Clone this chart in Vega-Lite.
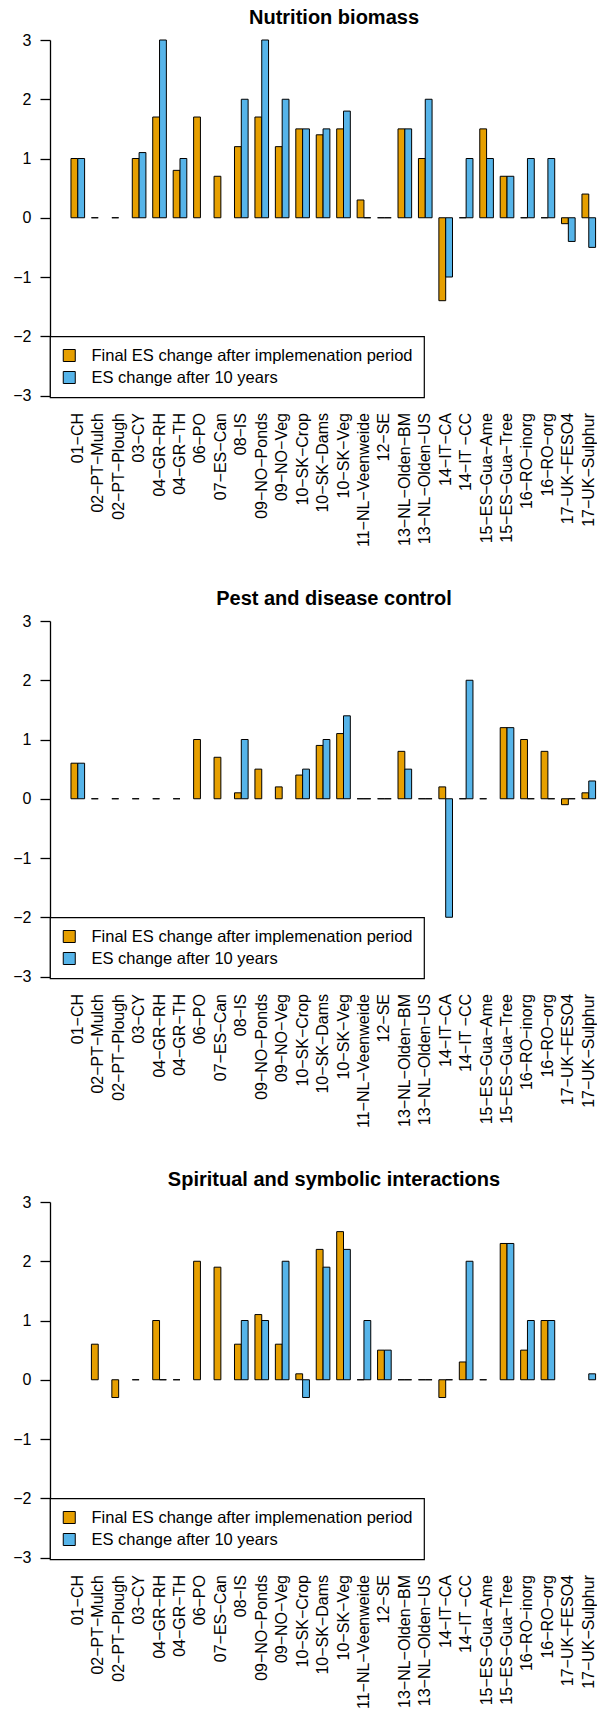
{
  "$schema": "https://vega.github.io/schema/vega-lite/v6.json",
  "background": "white",
  "padding": {"left": 12, "top": 8, "right": 0, "bottom": 0},
  "bounds": "flush",
  "spacing": 225,
  "config": {
    "font": "Liberation Sans",
    "view": {"stroke": null},
    "axis": {"labelColor": "black", "grid": false, "labelFontSize": 16, "domainColor": "black", "tickColor": "black", "domainWidth": 1.3, "tickWidth": 1.3},
    "legend": {"orient": "none", "legendX": 0, "legendY": 296.25, "strokeColor": "black", "strokeWidth": 1.2, "fillColor": "white", "padding": 11, "rowPadding": 5, "labelFontSize": 16.5, "labelColor": "black", "labelLimit": 400, "labelOffset": 14, "symbolType": "square", "symbolSize": 144, "symbolStrokeColor": "black", "symbolStrokeWidth": 1, "symbolOpacity": 1},
    "title": {"fontSize": 20, "fontWeight": "bold", "color": "black", "anchor": "middle", "frame": "group", "baseline": "alphabetic", "offset": 0, "dx": 10}
  },
  "resolve": {"legend": {"color": "independent"}},
  "data": {"values": [
    {"p": "N", "site": "01-CH", "s": "Final ES change after implemenation period", "v": 1},
    {"p": "N", "site": "01-CH", "s": "ES change after 10 years", "v": 1},
    {"p": "N", "site": "02-PT-Mulch", "s": "Final ES change after implemenation period", "v": 0},
    {"p": "N", "site": "02-PT-Plough", "s": "Final ES change after implemenation period", "v": 0},
    {"p": "N", "site": "03-CY", "s": "Final ES change after implemenation period", "v": 1},
    {"p": "N", "site": "03-CY", "s": "ES change after 10 years", "v": 1.1},
    {"p": "N", "site": "04-GR-RH", "s": "Final ES change after implemenation period", "v": 1.7},
    {"p": "N", "site": "04-GR-RH", "s": "ES change after 10 years", "v": 3},
    {"p": "N", "site": "04-GR-TH", "s": "Final ES change after implemenation period", "v": 0.8},
    {"p": "N", "site": "04-GR-TH", "s": "ES change after 10 years", "v": 1},
    {"p": "N", "site": "06-PO", "s": "Final ES change after implemenation period", "v": 1.7},
    {"p": "N", "site": "07-ES-Can", "s": "Final ES change after implemenation period", "v": 0.7},
    {"p": "N", "site": "08-IS", "s": "Final ES change after implemenation period", "v": 1.2},
    {"p": "N", "site": "08-IS", "s": "ES change after 10 years", "v": 2},
    {"p": "N", "site": "09-NO-Ponds", "s": "Final ES change after implemenation period", "v": 1.7},
    {"p": "N", "site": "09-NO-Ponds", "s": "ES change after 10 years", "v": 3},
    {"p": "N", "site": "09-NO-Veg", "s": "Final ES change after implemenation period", "v": 1.2},
    {"p": "N", "site": "09-NO-Veg", "s": "ES change after 10 years", "v": 2},
    {"p": "N", "site": "10-SK-Crop", "s": "Final ES change after implemenation period", "v": 1.5},
    {"p": "N", "site": "10-SK-Crop", "s": "ES change after 10 years", "v": 1.5},
    {"p": "N", "site": "10-SK-Dams", "s": "Final ES change after implemenation period", "v": 1.4},
    {"p": "N", "site": "10-SK-Dams", "s": "ES change after 10 years", "v": 1.5},
    {"p": "N", "site": "10-SK-Veg", "s": "Final ES change after implemenation period", "v": 1.5},
    {"p": "N", "site": "10-SK-Veg", "s": "ES change after 10 years", "v": 1.8},
    {"p": "N", "site": "11-NL-Veenweide", "s": "Final ES change after implemenation period", "v": 0.3},
    {"p": "N", "site": "11-NL-Veenweide", "s": "ES change after 10 years", "v": 0},
    {"p": "N", "site": "12-SE", "s": "Final ES change after implemenation period", "v": 0},
    {"p": "N", "site": "12-SE", "s": "ES change after 10 years", "v": 0},
    {"p": "N", "site": "13-NL-Olden-BM", "s": "Final ES change after implemenation period", "v": 1.5},
    {"p": "N", "site": "13-NL-Olden-BM", "s": "ES change after 10 years", "v": 1.5},
    {"p": "N", "site": "13-NL-Olden-US", "s": "Final ES change after implemenation period", "v": 1},
    {"p": "N", "site": "13-NL-Olden-US", "s": "ES change after 10 years", "v": 2},
    {"p": "N", "site": "14-IT-CA", "s": "Final ES change after implemenation period", "v": -1.4},
    {"p": "N", "site": "14-IT-CA", "s": "ES change after 10 years", "v": -1},
    {"p": "N", "site": "14-IT -CC", "s": "Final ES change after implemenation period", "v": 0},
    {"p": "N", "site": "14-IT -CC", "s": "ES change after 10 years", "v": 1},
    {"p": "N", "site": "15-ES-Gua-Ame", "s": "Final ES change after implemenation period", "v": 1.5},
    {"p": "N", "site": "15-ES-Gua-Ame", "s": "ES change after 10 years", "v": 1},
    {"p": "N", "site": "15-ES-Gua-Tree", "s": "Final ES change after implemenation period", "v": 0.7},
    {"p": "N", "site": "15-ES-Gua-Tree", "s": "ES change after 10 years", "v": 0.7},
    {"p": "N", "site": "16-RO-inorg", "s": "Final ES change after implemenation period", "v": 0},
    {"p": "N", "site": "16-RO-inorg", "s": "ES change after 10 years", "v": 1},
    {"p": "N", "site": "16-RO-org", "s": "Final ES change after implemenation period", "v": 0},
    {"p": "N", "site": "16-RO-org", "s": "ES change after 10 years", "v": 1},
    {"p": "N", "site": "17-UK-FESO4", "s": "Final ES change after implemenation period", "v": -0.1},
    {"p": "N", "site": "17-UK-FESO4", "s": "ES change after 10 years", "v": -0.4},
    {"p": "N", "site": "17-UK-Sulphur", "s": "Final ES change after implemenation period", "v": 0.4},
    {"p": "N", "site": "17-UK-Sulphur", "s": "ES change after 10 years", "v": -0.5},

    {"p": "P", "site": "01-CH", "s": "Final ES change after implemenation period", "v": 0.6},
    {"p": "P", "site": "01-CH", "s": "ES change after 10 years", "v": 0.6},
    {"p": "P", "site": "02-PT-Mulch", "s": "Final ES change after implemenation period", "v": 0},
    {"p": "P", "site": "02-PT-Plough", "s": "Final ES change after implemenation period", "v": 0},
    {"p": "P", "site": "03-CY", "s": "Final ES change after implemenation period", "v": 0},
    {"p": "P", "site": "04-GR-RH", "s": "Final ES change after implemenation period", "v": 0},
    {"p": "P", "site": "04-GR-TH", "s": "Final ES change after implemenation period", "v": 0},
    {"p": "P", "site": "06-PO", "s": "Final ES change after implemenation period", "v": 1},
    {"p": "P", "site": "07-ES-Can", "s": "Final ES change after implemenation period", "v": 0.7},
    {"p": "P", "site": "08-IS", "s": "Final ES change after implemenation period", "v": 0.1},
    {"p": "P", "site": "08-IS", "s": "ES change after 10 years", "v": 1},
    {"p": "P", "site": "09-NO-Ponds", "s": "Final ES change after implemenation period", "v": 0.5},
    {"p": "P", "site": "09-NO-Veg", "s": "Final ES change after implemenation period", "v": 0.2},
    {"p": "P", "site": "10-SK-Crop", "s": "Final ES change after implemenation period", "v": 0.4},
    {"p": "P", "site": "10-SK-Crop", "s": "ES change after 10 years", "v": 0.5},
    {"p": "P", "site": "10-SK-Dams", "s": "Final ES change after implemenation period", "v": 0.9},
    {"p": "P", "site": "10-SK-Dams", "s": "ES change after 10 years", "v": 1},
    {"p": "P", "site": "10-SK-Veg", "s": "Final ES change after implemenation period", "v": 1.1},
    {"p": "P", "site": "10-SK-Veg", "s": "ES change after 10 years", "v": 1.4},
    {"p": "P", "site": "11-NL-Veenweide", "s": "Final ES change after implemenation period", "v": 0},
    {"p": "P", "site": "11-NL-Veenweide", "s": "ES change after 10 years", "v": 0},
    {"p": "P", "site": "12-SE", "s": "Final ES change after implemenation period", "v": 0},
    {"p": "P", "site": "12-SE", "s": "ES change after 10 years", "v": 0},
    {"p": "P", "site": "13-NL-Olden-BM", "s": "Final ES change after implemenation period", "v": 0.8},
    {"p": "P", "site": "13-NL-Olden-BM", "s": "ES change after 10 years", "v": 0.5},
    {"p": "P", "site": "13-NL-Olden-US", "s": "Final ES change after implemenation period", "v": 0},
    {"p": "P", "site": "13-NL-Olden-US", "s": "ES change after 10 years", "v": 0},
    {"p": "P", "site": "14-IT-CA", "s": "Final ES change after implemenation period", "v": 0.2},
    {"p": "P", "site": "14-IT-CA", "s": "ES change after 10 years", "v": -2},
    {"p": "P", "site": "14-IT -CC", "s": "Final ES change after implemenation period", "v": 0},
    {"p": "P", "site": "14-IT -CC", "s": "ES change after 10 years", "v": 2},
    {"p": "P", "site": "15-ES-Gua-Ame", "s": "Final ES change after implemenation period", "v": 0},
    {"p": "P", "site": "15-ES-Gua-Tree", "s": "Final ES change after implemenation period", "v": 1.2},
    {"p": "P", "site": "15-ES-Gua-Tree", "s": "ES change after 10 years", "v": 1.2},
    {"p": "P", "site": "16-RO-inorg", "s": "Final ES change after implemenation period", "v": 1},
    {"p": "P", "site": "16-RO-inorg", "s": "ES change after 10 years", "v": 0},
    {"p": "P", "site": "16-RO-org", "s": "Final ES change after implemenation period", "v": 0.8},
    {"p": "P", "site": "16-RO-org", "s": "ES change after 10 years", "v": 0},
    {"p": "P", "site": "17-UK-FESO4", "s": "Final ES change after implemenation period", "v": -0.1},
    {"p": "P", "site": "17-UK-FESO4", "s": "ES change after 10 years", "v": 0},
    {"p": "P", "site": "17-UK-Sulphur", "s": "Final ES change after implemenation period", "v": 0.1},
    {"p": "P", "site": "17-UK-Sulphur", "s": "ES change after 10 years", "v": 0.3},

    {"p": "S", "site": "02-PT-Mulch", "s": "Final ES change after implemenation period", "v": 0.6},
    {"p": "S", "site": "02-PT-Plough", "s": "Final ES change after implemenation period", "v": -0.3},
    {"p": "S", "site": "03-CY", "s": "Final ES change after implemenation period", "v": 0},
    {"p": "S", "site": "04-GR-RH", "s": "Final ES change after implemenation period", "v": 1},
    {"p": "S", "site": "04-GR-RH", "s": "ES change after 10 years", "v": 0},
    {"p": "S", "site": "04-GR-TH", "s": "Final ES change after implemenation period", "v": 0},
    {"p": "S", "site": "06-PO", "s": "Final ES change after implemenation period", "v": 2},
    {"p": "S", "site": "07-ES-Can", "s": "Final ES change after implemenation period", "v": 1.9},
    {"p": "S", "site": "08-IS", "s": "Final ES change after implemenation period", "v": 0.6},
    {"p": "S", "site": "08-IS", "s": "ES change after 10 years", "v": 1},
    {"p": "S", "site": "09-NO-Ponds", "s": "Final ES change after implemenation period", "v": 1.1},
    {"p": "S", "site": "09-NO-Ponds", "s": "ES change after 10 years", "v": 1},
    {"p": "S", "site": "09-NO-Veg", "s": "Final ES change after implemenation period", "v": 0.6},
    {"p": "S", "site": "09-NO-Veg", "s": "ES change after 10 years", "v": 2},
    {"p": "S", "site": "10-SK-Crop", "s": "Final ES change after implemenation period", "v": 0.1},
    {"p": "S", "site": "10-SK-Crop", "s": "ES change after 10 years", "v": -0.3},
    {"p": "S", "site": "10-SK-Dams", "s": "Final ES change after implemenation period", "v": 2.2},
    {"p": "S", "site": "10-SK-Dams", "s": "ES change after 10 years", "v": 1.9},
    {"p": "S", "site": "10-SK-Veg", "s": "Final ES change after implemenation period", "v": 2.5},
    {"p": "S", "site": "10-SK-Veg", "s": "ES change after 10 years", "v": 2.2},
    {"p": "S", "site": "11-NL-Veenweide", "s": "Final ES change after implemenation period", "v": 0},
    {"p": "S", "site": "11-NL-Veenweide", "s": "ES change after 10 years", "v": 1},
    {"p": "S", "site": "12-SE", "s": "Final ES change after implemenation period", "v": 0.5},
    {"p": "S", "site": "12-SE", "s": "ES change after 10 years", "v": 0.5},
    {"p": "S", "site": "13-NL-Olden-BM", "s": "Final ES change after implemenation period", "v": 0},
    {"p": "S", "site": "13-NL-Olden-BM", "s": "ES change after 10 years", "v": 0},
    {"p": "S", "site": "13-NL-Olden-US", "s": "Final ES change after implemenation period", "v": 0},
    {"p": "S", "site": "13-NL-Olden-US", "s": "ES change after 10 years", "v": 0},
    {"p": "S", "site": "14-IT-CA", "s": "Final ES change after implemenation period", "v": -0.3},
    {"p": "S", "site": "14-IT-CA", "s": "ES change after 10 years", "v": 0},
    {"p": "S", "site": "14-IT -CC", "s": "Final ES change after implemenation period", "v": 0.3},
    {"p": "S", "site": "14-IT -CC", "s": "ES change after 10 years", "v": 2},
    {"p": "S", "site": "15-ES-Gua-Ame", "s": "Final ES change after implemenation period", "v": 0},
    {"p": "S", "site": "15-ES-Gua-Tree", "s": "Final ES change after implemenation period", "v": 2.3},
    {"p": "S", "site": "15-ES-Gua-Tree", "s": "ES change after 10 years", "v": 2.3},
    {"p": "S", "site": "16-RO-inorg", "s": "Final ES change after implemenation period", "v": 0.5},
    {"p": "S", "site": "16-RO-inorg", "s": "ES change after 10 years", "v": 1},
    {"p": "S", "site": "16-RO-org", "s": "Final ES change after implemenation period", "v": 1},
    {"p": "S", "site": "16-RO-org", "s": "ES change after 10 years", "v": 1},
    {"p": "S", "site": "17-UK-Sulphur", "s": "ES change after 10 years", "v": 0.1}
  ]},
  "vconcat": [
    {
      "title": "Nutrition biomass",
      "width": 548, "height": 355.5,
      "transform": [{"filter": "datum.p == 'N'"}],
      "mark": {"type": "bar", "stroke": "black", "strokeWidth": 1},
      "encoding": {
        "x": {"field": "site", "type": "nominal", "sort": null, "scale": {"domain": ["01-CH","02-PT-Mulch","02-PT-Plough","03-CY","04-GR-RH","04-GR-TH","06-PO","07-ES-Can","08-IS","09-NO-Ponds","09-NO-Veg","10-SK-Crop","10-SK-Dams","10-SK-Veg","11-NL-Veenweide","12-SE","13-NL-Olden-BM","13-NL-Olden-US","14-IT-CA","14-IT -CC","15-ES-Gua-Ame","15-ES-Gua-Tree","16-RO-inorg","16-RO-org","17-UK-FESO4","17-UK-Sulphur"], "paddingInner": 0.3333, "paddingOuter": 0.572, "align": 0.897}, "axis": {"title": null, "labelAngle": -90, "domain": false, "ticks": false, "labelPadding": 17, "labelOverlap": false, "labelLimit": 300, "labelExpr": "replace(datum.label, regexp('-', 'g'), '\u2212')"}},
        "xOffset": {"field": "s", "type": "nominal", "scale": {"domain": ["Final ES change after implemenation period", "ES change after 10 years"]}},
        "y": {"field": "v", "type": "quantitative", "stack": null, "scale": {"domain": [-3, 3], "nice": false, "zero": false}, "axis": {"title": null, "values": [-3,-2,-1,0,1,2,3], "tickSize": 10, "labelPadding": 9, "labelFlush": false}},
        "color": {"field": "s", "type": "nominal", "scale": {"domain": ["Final ES change after implemenation period", "ES change after 10 years"], "range": ["#E69F00", "#56B4E9"]}, "legend": {"title": null}}
      }
    },
    {
      "title": "Pest and disease control",
      "width": 548, "height": 355.5,
      "transform": [{"filter": "datum.p == 'P'"}],
      "mark": {"type": "bar", "stroke": "black", "strokeWidth": 1},
      "encoding": {
        "x": {"field": "site", "type": "nominal", "sort": null, "scale": {"domain": ["01-CH","02-PT-Mulch","02-PT-Plough","03-CY","04-GR-RH","04-GR-TH","06-PO","07-ES-Can","08-IS","09-NO-Ponds","09-NO-Veg","10-SK-Crop","10-SK-Dams","10-SK-Veg","11-NL-Veenweide","12-SE","13-NL-Olden-BM","13-NL-Olden-US","14-IT-CA","14-IT -CC","15-ES-Gua-Ame","15-ES-Gua-Tree","16-RO-inorg","16-RO-org","17-UK-FESO4","17-UK-Sulphur"], "paddingInner": 0.3333, "paddingOuter": 0.572, "align": 0.897}, "axis": {"title": null, "labelAngle": -90, "domain": false, "ticks": false, "labelPadding": 17, "labelOverlap": false, "labelLimit": 300, "labelExpr": "replace(datum.label, regexp('-', 'g'), '\u2212')"}},
        "xOffset": {"field": "s", "type": "nominal", "scale": {"domain": ["Final ES change after implemenation period", "ES change after 10 years"]}},
        "y": {"field": "v", "type": "quantitative", "stack": null, "scale": {"domain": [-3, 3], "nice": false, "zero": false}, "axis": {"title": null, "values": [-3,-2,-1,0,1,2,3], "tickSize": 10, "labelPadding": 9, "labelFlush": false}},
        "color": {"field": "s", "type": "nominal", "scale": {"domain": ["Final ES change after implemenation period", "ES change after 10 years"], "range": ["#E69F00", "#56B4E9"]}, "legend": {"title": null}}
      }
    },
    {
      "title": "Spiritual and symbolic interactions",
      "width": 548, "height": 355.5,
      "transform": [{"filter": "datum.p == 'S'"}],
      "mark": {"type": "bar", "stroke": "black", "strokeWidth": 1},
      "encoding": {
        "x": {"field": "site", "type": "nominal", "sort": null, "scale": {"domain": ["01-CH","02-PT-Mulch","02-PT-Plough","03-CY","04-GR-RH","04-GR-TH","06-PO","07-ES-Can","08-IS","09-NO-Ponds","09-NO-Veg","10-SK-Crop","10-SK-Dams","10-SK-Veg","11-NL-Veenweide","12-SE","13-NL-Olden-BM","13-NL-Olden-US","14-IT-CA","14-IT -CC","15-ES-Gua-Ame","15-ES-Gua-Tree","16-RO-inorg","16-RO-org","17-UK-FESO4","17-UK-Sulphur"], "paddingInner": 0.3333, "paddingOuter": 0.572, "align": 0.897}, "axis": {"title": null, "labelAngle": -90, "domain": false, "ticks": false, "labelPadding": 17, "labelOverlap": false, "labelLimit": 300, "labelExpr": "replace(datum.label, regexp('-', 'g'), '\u2212')"}},
        "xOffset": {"field": "s", "type": "nominal", "scale": {"domain": ["Final ES change after implemenation period", "ES change after 10 years"]}},
        "y": {"field": "v", "type": "quantitative", "stack": null, "scale": {"domain": [-3, 3], "nice": false, "zero": false}, "axis": {"title": null, "values": [-3,-2,-1,0,1,2,3], "tickSize": 10, "labelPadding": 9, "labelFlush": false}},
        "color": {"field": "s", "type": "nominal", "scale": {"domain": ["Final ES change after implemenation period", "ES change after 10 years"], "range": ["#E69F00", "#56B4E9"]}, "legend": {"title": null}}
      }
    }
  ]
}
